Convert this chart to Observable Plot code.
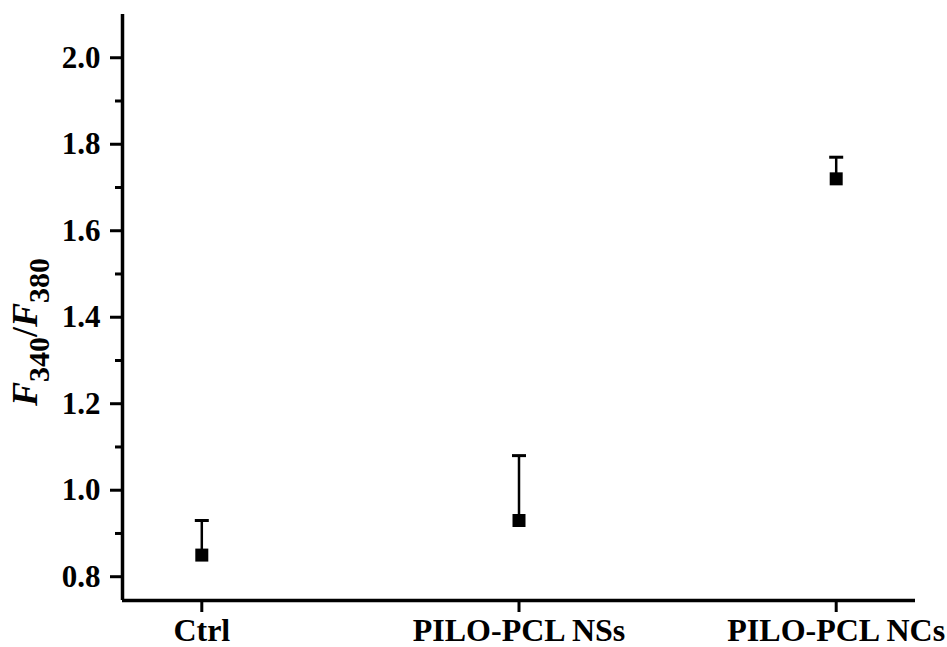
<!DOCTYPE html>
<html><head><meta charset="utf-8">
<script src="https://cdn.jsdelivr.net/npm/d3@7"></script>
<script src="https://cdn.jsdelivr.net/npm/@observablehq/plot@0.6"></script>
<style>html,body{margin:0;padding:0;background:#fff;}</style>
</head><body><div id="chart"></div>
<script>
const categories = ["Ctrl", "PILO-PCL NSs", "PILO-PCL NCs"];
const means = [0.85, 0.93, 1.72];
const upper = [0.93, 1.08, 1.77];
const yMajorTicks = [0.8, 1.0, 1.2, 1.4, 1.6, 1.8, 2.0];
const yMinorTicks = [0.9, 1.1, 1.3, 1.5, 1.7, 1.9];
const xTicks = [0, 1, 2];
const xDomain = [-0.25, 2.25];
const yDomain = [0.745, 2.1];

const data = categories.map((c, i) => ({i, c, mean: means[i], upper: upper[i]}));
const capSymbol = {draw(ctx, size) { const w = Math.sqrt(size); ctx.moveTo(-w / 2, 0); ctx.lineTo(w / 2, 0); }};
const font = "'Liberation Serif', 'Times New Roman', serif";

const plot = Plot.plot({
  width: 947, height: 647,
  marginLeft: 122, marginRight: 32, marginTop: 14, marginBottom: 47,
  style: {fontFamily: font, fontWeight: "bold", fontSize: "30px", color: "#000", background: "#fff"},
  x: {domain: xDomain, axis: null},
  y: {domain: yDomain, axis: null},
  marks: [
    Plot.axisX({ticks: xTicks, tickFormat: i => categories[i], tickSize: 12, tickPadding: 6, strokeWidth: 3, label: null, fontSize: 32}),
    Plot.axisY({ticks: yMajorTicks, tickFormat: d3.format(".1f"), tickSize: 12, tickPadding: 10, strokeWidth: 3, label: null, fontSize: 31}),
    Plot.axisY({ticks: yMinorTicks, tickFormat: () => "", tickSize: 7, strokeWidth: 3, label: null}),
    Plot.ruleX([xDomain[0]], {strokeWidth: 3.5}),
    Plot.ruleY([yDomain[0]], {strokeWidth: 3.5}),
    Plot.ruleX(data, {x: "i", y1: "mean", y2: "upper", strokeWidth: 2.5}),
    Plot.dot(data, {x: "i", y: "upper", symbol: capSymbol, r: 14 / Math.sqrt(Math.PI), stroke: "#000", strokeWidth: 3, fill: "none"}),
    Plot.dot(data, {x: "i", y: "mean", symbol: "square", r: 13 / Math.sqrt(Math.PI), fill: "#000", stroke: "none"})
  ]
});

const svg = d3.select(plot);
const label = svg.append("text")
  .attr("transform", "translate(37,332) rotate(-90)")
  .attr("text-anchor", "middle")
  .attr("font-family", font)
  .attr("font-weight", "bold")
  .attr("font-size", 36)
  .attr("fill", "#000");
label.append("tspan").attr("font-style", "italic").text("F");
label.append("tspan").attr("font-size", 30).attr("dy", 12).text("340");
label.append("tspan").attr("dy", -12).text("/");
label.append("tspan").attr("font-style", "italic").text("F");
label.append("tspan").attr("font-size", 30).attr("dy", 12).text("380");

document.getElementById("chart").appendChild(plot);
</script>
</body></html>
